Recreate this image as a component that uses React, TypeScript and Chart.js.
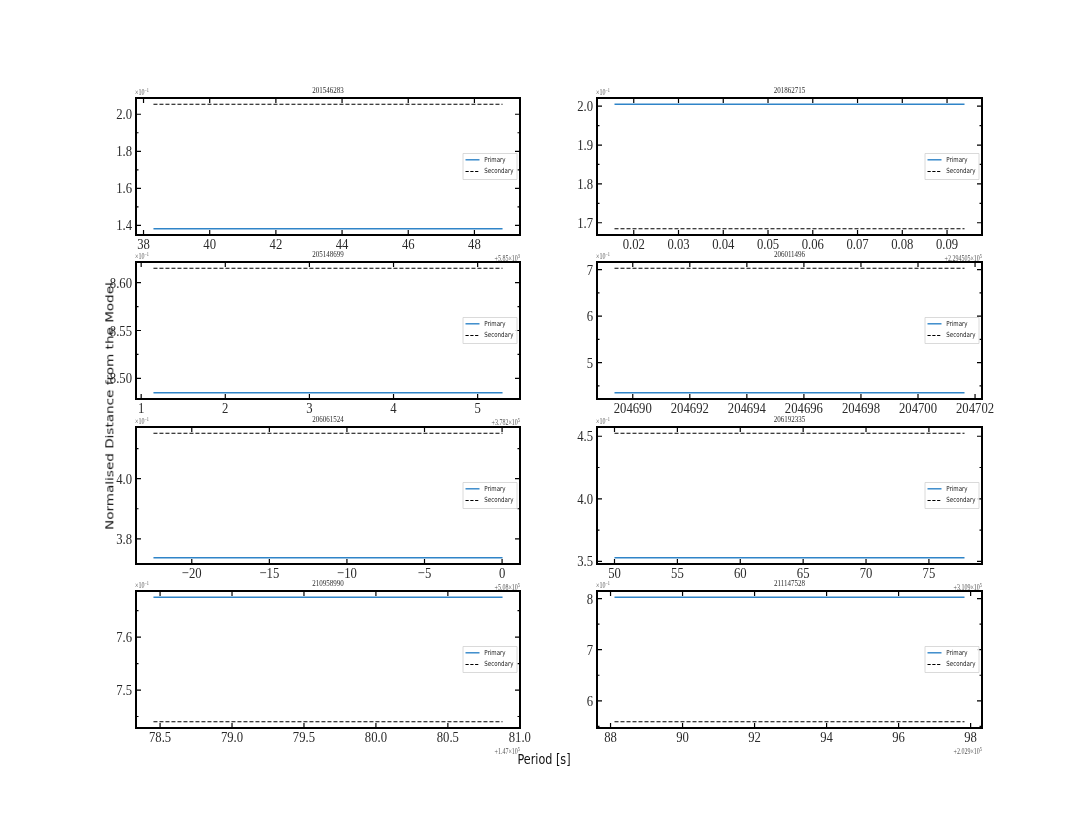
import React, { useEffect, useRef } from 'react';
import { Chart, registerables } from 'chart.js';
Chart.register(...registerables);

// ---------------- data ----------------
// x values are shown after the axis offset; y values are in units of 10^-1
const seriesNames = ['Primary', 'Secondary'];

const p1Title = '201546283';
const p1Period = [38.30, 48.85];
const p1Primary = [1.382, 1.382];
const p1Secondary = [2.054, 2.054];
const p1XTicks = [38, 40, 42, 44, 46, 48];
const p1XLabels = ['38', '40', '42', '44', '46', '48'];
const p1YTicks = [1.4, 1.6, 1.8, 2.0];
const p1YLabels = ['1.4', '1.6', '1.8', '2.0'];
const p1YMinor = [1.5, 1.7, 1.9];
const p1XOffset = ['+5.85×10', '3'];

const p2Title = '201862715';
const p2Period = [0.0157, 0.0939];
const p2Primary = [2.005, 2.005];
const p2Secondary = [1.6845, 1.6845];
const p2XTicks = [0.02, 0.03, 0.04, 0.05, 0.06, 0.07, 0.08, 0.09];
const p2XLabels = ['0.02', '0.03', '0.04', '0.05', '0.06', '0.07', '0.08', '0.09'];
const p2YTicks = [1.7, 1.8, 1.9, 2.0];
const p2YLabels = ['1.7', '1.8', '1.9', '2.0'];
const p2YMinor = [1.75, 1.85, 1.95];
const p2XOffset = ['+2.294505×10', '5'];

const p3Title = '205148699';
const p3Period = [1.146, 5.296];
const p3Primary = [8.485, 8.485];
const p3Secondary = [8.615, 8.615];
const p3XTicks = [1, 2, 3, 4, 5];
const p3XLabels = ['1', '2', '3', '4', '5'];
const p3YTicks = [8.50, 8.55, 8.60];
const p3YLabels = ['8.50', '8.55', '8.60'];
const p3YMinor = [8.525, 8.575];
const p3XOffset = ['+3.782×10', '5'];

const p4Title = '206011496';
const p4Period = [204689.36, 204701.63];
const p4Primary = [4.35, 4.35];
const p4Secondary = [7.029, 7.029];
const p4XTicks = [204690, 204692, 204694, 204696, 204698, 204700, 204702];
const p4XLabels = ['204690', '204692', '204694', '204696', '204698', '204700', '204702'];
const p4YTicks = [5, 6, 7];
const p4YLabels = ['5', '6', '7'];
const p4YMinor = [4.5, 5.5, 6.5];
const p4XOffset: string[] | null = null;

const p5Title = '206061524';
const p5Period = [-22.47, 0.03];
const p5Primary = [3.737, 3.737];
const p5Secondary = [4.151, 4.151];
const p5XTicks = [-20, -15, -10, -5, 0];
const p5XLabels = ['\u221220', '\u221215', '\u221210', '\u22125', '0'];
const p5YTicks = [3.8, 4.0];
const p5YLabels = ['3.8', '4.0'];
const p5YMinor = [3.9, 4.1];
const p5XOffset = ['+5.08×10', '5'];

const p6Title = '206192335';
const p6Period = [50.0, 77.83];
const p6Primary = [3.529, 3.529];
const p6Secondary = [4.524, 4.524];
const p6XTicks = [50, 55, 60, 65, 70, 75];
const p6XLabels = ['50', '55', '60', '65', '70', '75'];
const p6YTicks = [3.5, 4.0, 4.5];
const p6YLabels = ['3.5', '4.0', '4.5'];
const p6YMinor = [3.75, 4.25];
const p6XOffset = ['+3.109×10', '5'];

const p7Title = '210958990';
const p7Period = [78.454, 80.88];
const p7Primary = [7.6755, 7.6755];
const p7Secondary = [7.440, 7.440];
const p7XTicks = [78.5, 79.0, 79.5, 80.0, 80.5, 81.0];
const p7XLabels = ['78.5', '79.0', '79.5', '80.0', '80.5', '81.0'];
const p7YTicks = [7.5, 7.6];
const p7YLabels = ['7.5', '7.6'];
const p7YMinor = [7.45, 7.55, 7.65];
const p7XOffset = ['+1.47×10', '5'];

const p8Title = '211147528';
const p8Period = [88.11, 97.83];
const p8Primary = [8.026, 8.026];
const p8Secondary = [5.59, 5.59];
const p8XTicks = [88, 90, 92, 94, 96, 98];
const p8XLabels = ['88', '90', '92', '94', '96', '98'];
const p8YTicks = [6, 7, 8];
const p8YLabels = ['6', '7', '8'];
const p8YMinor = [5.5, 6.5, 7.5];
const p8XOffset = ['+2.029×10', '5'];

const yScaleText = ['×10', '\u22121'];

type PanelData = {
  title: string; period: number[]; primary: number[]; secondary: number[];
  xTicks: number[]; xLabels: string[]; yTicks: number[]; yLabels: string[];
  yMinor: number[]; xOffset: string[] | null;
};

const panels: PanelData[] = [
  { title: p1Title, period: p1Period, primary: p1Primary, secondary: p1Secondary, xTicks: p1XTicks, xLabels: p1XLabels, yTicks: p1YTicks, yLabels: p1YLabels, yMinor: p1YMinor, xOffset: p1XOffset },
  { title: p2Title, period: p2Period, primary: p2Primary, secondary: p2Secondary, xTicks: p2XTicks, xLabels: p2XLabels, yTicks: p2YTicks, yLabels: p2YLabels, yMinor: p2YMinor, xOffset: p2XOffset },
  { title: p3Title, period: p3Period, primary: p3Primary, secondary: p3Secondary, xTicks: p3XTicks, xLabels: p3XLabels, yTicks: p3YTicks, yLabels: p3YLabels, yMinor: p3YMinor, xOffset: p3XOffset },
  { title: p4Title, period: p4Period, primary: p4Primary, secondary: p4Secondary, xTicks: p4XTicks, xLabels: p4XLabels, yTicks: p4YTicks, yLabels: p4YLabels, yMinor: p4YMinor, xOffset: p4XOffset },
  { title: p5Title, period: p5Period, primary: p5Primary, secondary: p5Secondary, xTicks: p5XTicks, xLabels: p5XLabels, yTicks: p5YTicks, yLabels: p5YLabels, yMinor: p5YMinor, xOffset: p5XOffset },
  { title: p6Title, period: p6Period, primary: p6Primary, secondary: p6Secondary, xTicks: p6XTicks, xLabels: p6XLabels, yTicks: p6YTicks, yLabels: p6YLabels, yMinor: p6YMinor, xOffset: p6XOffset },
  { title: p7Title, period: p7Period, primary: p7Primary, secondary: p7Secondary, xTicks: p7XTicks, xLabels: p7XLabels, yTicks: p7YTicks, yLabels: p7YLabels, yMinor: p7YMinor, xOffset: p7XOffset },
  { title: p8Title, period: p8Period, primary: p8Primary, secondary: p8Secondary, xTicks: p8XTicks, xLabels: p8XLabels, yTicks: p8YTicks, yLabels: p8YLabels, yMinor: p8YMinor, xOffset: p8XOffset },
];

// ---------------- layout ----------------
const COL_LEFT = [136, 597];
const COL_WIDTH = [384, 385];
const ROW_TOP = [98, 262, 427, 591];
const PLOT_H = 137;
const PAD_L = 50, PAD_T = 22, PAD_R = 30, PAD_B = 32;
const STRETCH = 1.2; // the reference text is taller than it is wide

const PRIMARY_COLOR = '#2f84c8';
const SERIF = '"Liberation Serif", "DejaVu Serif", serif';
const SANS = '"DejaVu Sans", sans-serif';

function sText(ctx: CanvasRenderingContext2D, text: string, x: number, y: number, font: string, align: CanvasTextAlign) {
  ctx.save();
  ctx.translate(x, y);
  ctx.scale(1, STRETCH);
  ctx.font = font;
  ctx.textAlign = align;
  ctx.textBaseline = 'alphabetic';
  ctx.fillText(text, 0, 0);
  ctx.restore();
}

function drawSup(ctx: CanvasRenderingContext2D, base: string, exp: string, x: number, y: number, size: number, align: 'left' | 'right') {
  const fb = `${size}px ${SERIF}`;
  const fe = `${size * 0.72}px ${SERIF}`;
  ctx.font = fb;
  const wb = ctx.measureText(base).width;
  ctx.font = fe;
  const we = ctx.measureText(exp).width;
  const start = align === 'left' ? x : x - wb - we;
  sText(ctx, base, start, y, fb, 'left');
  sText(ctx, exp, start + wb, y - size * 0.45, fe, 'left');
}

function margin(vals: number[]) {
  const lo = Math.min(...vals), hi = Math.max(...vals);
  const r = hi - lo;
  return [lo - 0.05 * r, hi + 0.05 * r];
}

function Panel({ d, left, top, width }: { d: PanelData; left: number; top: number; width: number }) {
  const ref = useRef<HTMLCanvasElement>(null);
  const cw = PAD_L + width + PAD_R;
  const ch = PAD_T + PLOT_H + PAD_B;
  useEffect(() => {
    const [xmin, xmax] = margin(d.period);
    const [ymin, ymax] = margin([...d.primary, ...d.secondary]);
    const decor = {
      id: 'decor',
      afterDraw(chart: any) {
        const { ctx, chartArea: a, scales } = chart;
        const xs = scales.x, ys = scales.y;
        ctx.save();
        ctx.strokeStyle = '#000';
        ctx.lineWidth = 1.2;
        ctx.beginPath();
        for (const t of xs.ticks) {
          const px = xs.getPixelForValue(t.value);
          ctx.moveTo(px, a.bottom); ctx.lineTo(px, a.bottom - 5);
          ctx.moveTo(px, a.top); ctx.lineTo(px, a.top + 5);
        }
        for (const t of ys.ticks) {
          const py = ys.getPixelForValue(t.value);
          ctx.moveTo(a.left, py); ctx.lineTo(a.left + 5, py);
          ctx.moveTo(a.right, py); ctx.lineTo(a.right - 5, py);
        }
        for (const v of d.yMinor) {
          const py = ys.getPixelForValue(v);
          ctx.moveTo(a.left, py); ctx.lineTo(a.left + 2.5, py);
          ctx.moveTo(a.right, py); ctx.lineTo(a.right - 2.5, py);
        }
        ctx.stroke();
        ctx.lineWidth = 2;
        ctx.strokeRect(a.left, a.top, a.right - a.left, a.bottom - a.top);

        // tick labels
        ctx.fillStyle = '#2a2a2a';
        const tf = `12.7px ${SERIF}`;
        xs.ticks.forEach((t: any, i: number) => {
          sText(ctx, d.xLabels[i], xs.getPixelForValue(t.value), a.bottom + 14, tf, 'center');
        });
        ys.ticks.forEach((t: any, i: number) => {
          sText(ctx, d.yLabels[i], a.left - 4, ys.getPixelForValue(t.value) + 5, tf, 'right');
        });

        // title
        sText(ctx, d.title, (a.left + a.right) / 2, a.top - 5, `7px ${SERIF}`, 'center');
        // y multiplier
        ctx.fillStyle = '#555';
        drawSup(ctx, yScaleText[0], yScaleText[1], a.left - 1, a.top - 3.5, 6, 'left');
        // x offset
        if (d.xOffset) drawSup(ctx, d.xOffset[0], d.xOffset[1], a.right, a.bottom + 25.5, 6, 'right');

        // legend
        const bw = 54, bh = 26;
        const bx = a.right - 3 - bw;
        const by = (a.top + a.bottom) / 2 - bh / 2;
        ctx.fillStyle = 'rgba(255,255,255,0.85)';
        ctx.strokeStyle = '#d0d0d0';
        ctx.lineWidth = 0.8;
        ctx.beginPath();
        ctx.rect(bx, by, bw, bh);
        ctx.fill();
        ctx.stroke();
        const rows = [by + 6.3, by + 18];
        ctx.lineWidth = 1.4;
        ctx.strokeStyle = PRIMARY_COLOR;
        ctx.beginPath(); ctx.moveTo(bx + 2.5, rows[0]); ctx.lineTo(bx + 16.5, rows[0]); ctx.stroke();
        ctx.strokeStyle = '#000';
        ctx.lineWidth = 1.1;
        ctx.setLineDash([3.2, 1.6]);
        ctx.beginPath(); ctx.moveTo(bx + 2.5, rows[1]); ctx.lineTo(bx + 16.5, rows[1]); ctx.stroke();
        ctx.setLineDash([]);
        ctx.fillStyle = '#222';
        ctx.textAlign = 'left';
        ctx.textBaseline = 'middle';
        ctx.font = `6.4px ${SANS}`;
        for (let i = 0; i < 2; i++) {
          ctx.save();
          ctx.translate(bx + 21.3, rows[i]);
          ctx.scale(0.86, 1.1);
          ctx.fillText(seriesNames[i], 0, 0);
          ctx.restore();
        }
        ctx.restore();
      },
    };
    const chart = new Chart(ref.current!, {
      type: 'line',
      data: {
        datasets: [
          {
            label: seriesNames[0],
            data: d.period.map((x, i) => ({ x, y: d.primary[i] })),
            borderColor: PRIMARY_COLOR,
            borderWidth: 1.5,
            pointRadius: 0,
            fill: false,
          },
          {
            label: seriesNames[1],
            data: d.period.map((x, i) => ({ x, y: d.secondary[i] })),
            borderColor: '#000',
            borderWidth: 1.1,
            borderDash: [4, 2],
            pointRadius: 0,
            fill: false,
          },
        ],
      },
      options: {
        animation: false,
        responsive: false,
        maintainAspectRatio: false,
        layout: { padding: { left: 0, top: PAD_T, right: PAD_R, bottom: 0 } },
        plugins: { legend: { display: false }, tooltip: { enabled: false }, title: { display: false } },
        scales: {
          x: {
            type: 'linear',
            min: xmin,
            max: xmax,
            grid: { display: false },
            border: { display: false },
            afterBuildTicks: (s: any) => { s.ticks = d.xTicks.map((v) => ({ value: v })); },
            afterFit: (s: any) => { s.height = PAD_B; },
            ticks: { display: false, autoSkip: false, maxRotation: 0, minRotation: 0 },
          },
          y: {
            type: 'linear',
            min: ymin,
            max: ymax,
            grid: { display: false },
            border: { display: false },
            afterBuildTicks: (s: any) => { s.ticks = d.yTicks.map((v) => ({ value: v })); },
            afterFit: (s: any) => { s.width = PAD_L; },
            ticks: { display: false, autoSkip: false },
          },
        },
      } as any,
      plugins: [decor],
    });
    return () => chart.destroy();
  }, []);
  return (
    <canvas
      ref={ref}
      width={cw}
      height={ch}
      style={{ position: 'absolute', left: left - PAD_L, top: top - PAD_T, width: cw, height: ch }}
    />
  );
}

export default function App() {
  return (
    <div style={{ position: 'absolute', left: 0, top: 0, width: 1090, height: 818, background: '#fff', overflow: 'hidden' }}>
      {panels.map((d, i) => {
        const col = i % 2;
        const row = Math.floor(i / 2);
        return <Panel key={i} d={d} left={COL_LEFT[col]} top={ROW_TOP[row]} width={COL_WIDTH[col]} />;
      })}
      <div
        style={{
          position: 'absolute', left: 110, top: 406,
          transform: `translate(-50%, -50%) rotate(-90deg) scaleX(${STRETCH})`,
          whiteSpace: 'nowrap', fontFamily: SANS, fontSize: 11.3, color: '#111', lineHeight: 1,
        }}
      >
        Normalised Distance from the Model
      </div>
      <div
        style={{
          position: 'absolute', left: 544, top: 760,
          transform: `translate(-50%, -50%) scaleY(${STRETCH})`,
          whiteSpace: 'nowrap', fontFamily: SANS, fontSize: 11.2, color: '#111', lineHeight: 1,
        }}
      >
        Period [s]
      </div>
    </div>
  );
}
